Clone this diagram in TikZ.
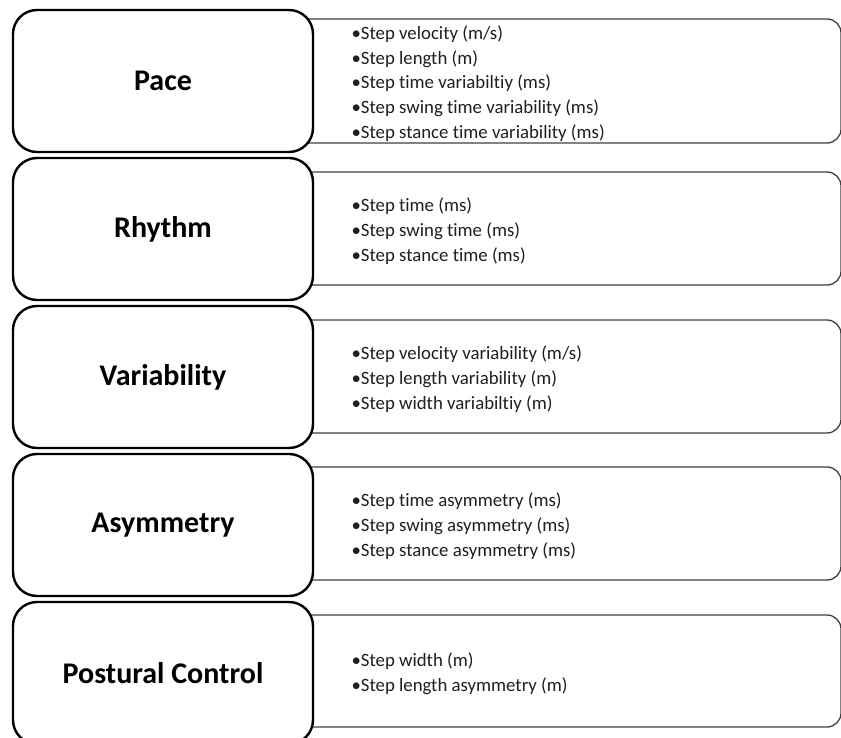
\documentclass[tikz,border=0pt]{standalone}
\usepackage{fontspec}
\setmainfont{Carlito}[Ligatures={NoCommon}]
\begin{document}
\begin{tikzpicture}[x=1pt,y=-1pt,
  catbox/.style={draw=black, line width=2.4pt, fill=white, rounded corners=24pt,
    minimum width=300pt, minimum height=142pt, inner sep=0pt,
    font=\fontsize{30}{36}\selectfont\bfseries},
  listbox/.style={draw=black!75, line width=1.3pt, fill=white, rounded corners=14pt,
    minimum width=561pt, inner sep=0pt},
  listtext/.style={anchor=west, inner sep=0pt, align=left, text=black!88,
    font=\fontsize{18.8}{24.7}\selectfont}
]
\useasboundingbox (0,0) rectangle (841,738);
\clip (0,0) rectangle (841,738);
% right lists
\node[listbox, minimum height=124pt] (paceL) at (560.5,81) {};
\node[listtext] (paceT) at ([xshift=72pt,yshift=-2.5pt]paceL.west)
  {•Step velocity (m/s)\\•Step length (m)\\•Step time variabiltiy (ms)\\•Step swing time variability (ms)\\•Step stance time variability (ms)};
\node[listbox, minimum height=113pt] (rhythmL) at (560.5,228.5) {};
\node[listtext] (rhythmT) at ([xshift=72pt,yshift=-2.5pt]rhythmL.west)
  {•Step time (ms)\\•Step swing time (ms)\\•Step stance time (ms)};
\node[listbox, minimum height=113pt] (varL) at (560.5,376.5) {};
\node[listtext] (varT) at ([xshift=72pt,yshift=-2.5pt]varL.west)
  {•Step velocity variability (m/s)\\•Step length variability (m)\\•Step width variabiltiy (m)};
\node[listbox, minimum height=113pt] (asymL) at (560.5,523.5) {};
\node[listtext] (asymT) at ([xshift=72pt,yshift=-2.5pt]asymL.west)
  {•Step time asymmetry (ms)\\•Step swing asymmetry (ms)\\•Step stance asymmetry (ms)};
\node[listbox, minimum height=112pt] (postL) at (560.5,671) {};
\node[listtext] (postT) at ([xshift=72pt,yshift=-2.5pt]postL.west)
  {•Step width (m)\\•Step length asymmetry (m)};
% categories
\node[catbox] (pace) at (163,81) {Pace};
\node[catbox] (rhythm) at (163,229) {Rhythm};
\node[catbox] (var) at (163,377) {Variability};
\node[catbox] (asym) at (163,525) {Asymmetry};
\node[catbox] (post) at (163,673) {Postural Control};
\end{tikzpicture}
\end{document}
